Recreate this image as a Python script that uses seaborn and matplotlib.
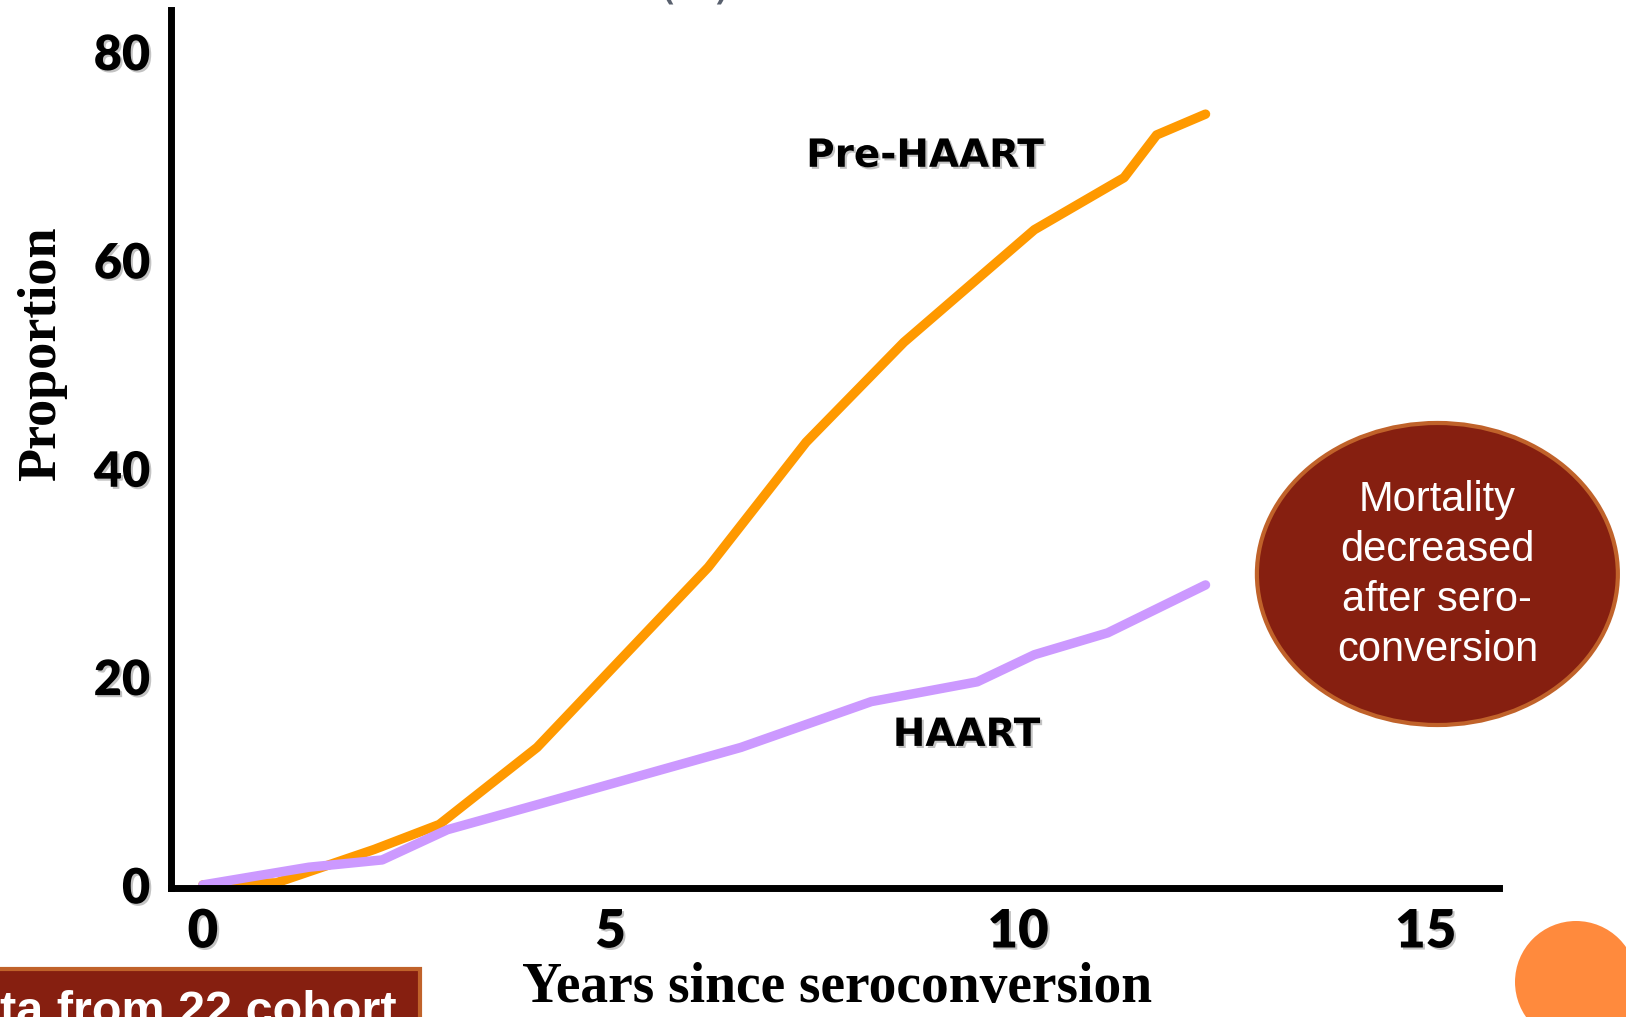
import pandas as pd
import seaborn as sns
import matplotlib.pyplot as plt
import matplotlib.patheffects as pe
from matplotlib.patches import Ellipse, Rectangle

# values
pre_years = [0.0, 0.9, 2.1, 2.9, 4.1, 6.2, 7.4, 8.6, 10.2, 11.3, 11.7, 12.3]
pre_prop = [0.0, 0.2, 3.4, 5.8, 13.2, 30.5, 42.5, 52.1, 62.9, 67.9, 72.0, 74.0]

haart_years = [0.0, 1.3, 2.2, 3.0, 4.1, 6.6, 8.2, 9.5, 10.2, 11.1, 12.3]
haart_prop = [0.0, 1.7, 2.4, 5.3, 7.7, 13.2, 17.6, 19.5, 22.1, 24.2, 28.8]

x_ticks = [0, 5, 10, 15]
y_ticks = [0, 20, 40, 60, 80]

series_names = ['Pre-HAART', 'HAART']
series_colors = ['#FF9900', '#CC99FF']

df = pd.concat([
    pd.DataFrame({'year': pre_years, 'proportion': pre_prop, 'group': 'Pre-HAART'}),
    pd.DataFrame({'year': haart_years, 'proportion': haart_prop, 'group': 'HAART'}),
])

sns.set_style('white')
shadow = [pe.withSimplePatchShadow(offset=(1.5, -1.5), shadow_rgbFace='#555555', alpha=0.35)]

W, H = 1626, 1017
fig = plt.figure(figsize=(W / 100, H / 100), dpi=100)
ax = fig.add_axes([0.1052, 0.1268, 0.8167, 0.8634])

sns.lineplot(data=df, x='year', y='proportion', hue='group', hue_order=series_names,
             palette=series_colors, linewidth=6.8, estimator=None, sort=False,
             legend=False, ax=ax)

ax.set_xlim(-0.39, 15.9)
ax.set_ylim(-0.3, 84.0)
ax.set_xticks(x_ticks)
ax.set_yticks(y_ticks)

for side in ['top', 'right']:
    ax.spines[side].set_visible(False)
for side in ['left', 'bottom']:
    ax.spines[side].set_linewidth(5)
    ax.spines[side].set_color('black')
    ax.spines[side].set_path_effects(shadow)

ax.tick_params(axis='both', length=0, labelcolor='black')
ax.tick_params(axis='x', pad=14)
ax.tick_params(axis='y', pad=15)
for lab in ax.get_xticklabels():
    lab.set_fontfamily('Lato')
    lab.set_fontweight('heavy')
    lab.set_fontsize(38)
    lab.set_path_effects(shadow)
for lab in ax.get_yticklabels():
    lab.set_fontfamily('Lato')
    lab.set_fontweight('heavy')
    lab.set_fontsize(35)
    lab.set_path_effects(shadow)

ax.set_xlabel('Years since seroconversion', fontsize=40, family='Liberation Serif',
              weight='bold', color='black', va='bottom')
ax.xaxis.set_label_coords(0.5015, -0.1435)
ax.set_ylabel('Proportion', fontsize=39, family='Liberation Serif',
              weight='bold', color='black', va='baseline')
ax.yaxis.set_label_coords(-0.0873, 0.609)

# series labels
ax.text(8.86, 70.0, 'Pre-HAART', fontsize=28, weight='bold', color='black',
        ha='center', va='center', path_effects=shadow)
ax.text(9.37, 14.4, 'HAART', fontsize=28, weight='bold', color='black',
        ha='center', va='center', path_effects=shadow)

# callout bubble
fig.patches.append(Ellipse((0.884, 0.4356), 0.222, 0.297, transform=fig.transFigure,
                           facecolor='#861F10', edgecolor='#C0622A', linewidth=3))
fig.text(0.884, 0.4346, 'Mortality\ndecreased\nafter sero-\nconversion', color='white',
         fontsize=30, family='Liberation Sans', ha='center', va='center', linespacing=1.32)

# partial slide decorations
fig.patches.append(Rectangle((-0.01, -0.05), 0.268, 0.097, transform=fig.transFigure,
                             facecolor='#861F10', edgecolor='#C0622A', linewidth=3))
fig.text(0.244, -0.008, 'Data from 22 cohort', color='white', fontsize=35,
         family='Liberation Sans', weight='bold', ha='right', va='baseline')
fig.patches.append(Ellipse((1576 / W, 1 - 982 / H), 122 / W, 122 / H,
                           transform=fig.transFigure, facecolor='#FF8A3D',
                           edgecolor='none'))
fig.text(0.4275, 1.002, '(A)', color='#59606E', fontsize=38, ha='center', va='baseline')

fig.savefig('out.png', dpi=100)
